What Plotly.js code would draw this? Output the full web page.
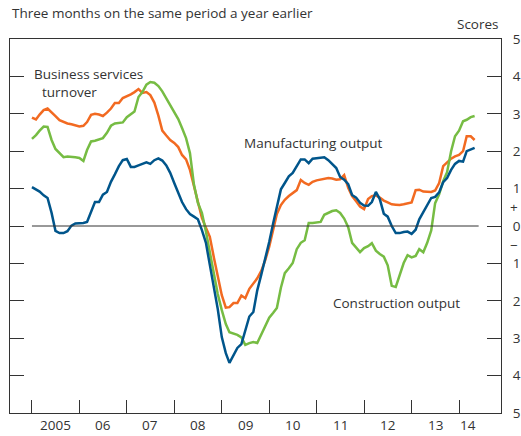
<!DOCTYPE html>
<html>
<head>
<meta charset="utf-8">
<script src="https://cdn.plot.ly/plotly-3.0.1.min.js"></script>
<style>html,body{margin:0;padding:0;background:#fff;}#chart{width:521px;height:436px;}</style>
</head>
<body>
<div id="chart"></div>
<script>
// Monthly, Jan 2005 to May 2014
const startYear = 2005;
const businessServices = [2.90,2.85,2.98,3.10,3.14,3.05,2.94,2.83,2.78,2.74,2.72,2.70,
  2.66,2.68,2.78,2.97,3.00,2.98,2.94,3.03,3.14,3.29,3.29,3.42,
  3.46,3.52,3.58,3.66,3.56,3.58,3.50,3.30,2.95,2.55,2.42,2.30,
  2.22,2.11,1.90,1.78,1.50,1.05,0.60,0.22,-0.05,-0.29,-0.84,-1.33,
  -1.85,-2.18,-2.17,-2.06,-2.06,-1.86,-1.93,-1.68,-1.52,-1.40,-1.20,-0.92,
  -0.55,-0.11,0.32,0.56,0.70,0.80,0.88,0.96,1.23,1.15,1.10,1.18,
  1.22,1.24,1.26,1.28,1.27,1.24,1.25,1.36,1.02,0.80,0.66,0.52,
  0.45,0.72,0.80,0.82,0.76,0.68,0.63,0.58,0.57,0.56,0.58,0.61,
  0.63,0.96,0.97,0.92,0.91,0.91,0.95,1.15,1.60,1.71,1.80,1.86,
  1.90,2.00,2.40,2.40,2.30];
const construction = [2.33,2.43,2.55,2.66,2.65,2.30,2.06,1.95,1.84,1.86,1.86,1.84,
  1.82,1.74,2.03,2.26,2.28,2.31,2.35,2.49,2.68,2.74,2.75,2.77,
  2.91,2.98,3.06,3.45,3.58,3.78,3.85,3.83,3.74,3.60,3.42,3.24,
  3.05,2.86,2.62,2.35,1.95,1.10,0.62,0.35,-0.15,-0.70,-1.28,-1.82,
  -2.25,-2.62,-2.84,-2.88,-2.91,-2.98,-3.18,-3.13,-3.10,-3.13,-2.90,-2.70,
  -2.45,-2.32,-2.19,-1.65,-1.26,-1.13,-0.99,-0.62,-0.45,-0.38,0.08,0.08,
  0.10,0.11,0.30,0.36,0.40,0.42,0.35,0.20,-0.03,-0.45,-0.57,-0.70,
  -0.59,-0.54,-0.46,-0.66,-0.75,-0.82,-1.05,-1.60,-1.63,-1.33,-0.99,-0.78,
  -0.84,-0.80,-0.62,-0.70,-0.45,-0.12,0.61,0.85,1.20,1.44,2.00,2.40,
  2.55,2.80,2.84,2.91,2.94];
const manufacturing = [1.04,0.98,0.92,0.82,0.75,0.35,-0.13,-0.19,-0.19,-0.14,0.01,0.07,
  0.08,0.08,0.11,0.36,0.64,0.64,0.84,0.91,1.18,1.38,1.60,1.76,
  1.79,1.58,1.58,1.62,1.65,1.70,1.66,1.76,1.81,1.75,1.62,1.42,
  1.15,0.86,0.64,0.45,0.32,0.25,0.18,-0.11,-0.45,-1.04,-1.64,-2.22,
  -2.97,-3.40,-3.66,-3.45,-3.26,-3.16,-2.80,-2.42,-2.30,-1.72,-1.30,-0.88,
  -0.43,0.08,0.50,0.98,1.15,1.33,1.42,1.62,1.78,1.78,1.68,1.80,
  1.82,1.82,1.84,1.76,1.65,1.55,1.31,1.24,1.12,0.83,0.76,0.62,
  0.55,0.54,0.64,0.91,0.72,0.33,0.25,0.00,-0.19,-0.19,-0.16,-0.15,
  -0.21,-0.10,0.18,0.38,0.56,0.75,0.78,0.90,1.17,1.28,1.50,1.66,
  1.74,1.72,2.00,2.04,2.09];
const yearLabels = ['2005','06','07','08','09','10','11','12','13','14'];
const yearLabelPos = ['2005-07-01','2006-07-01','2007-07-01','2008-07-01','2009-07-01','2010-07-01','2011-07-01','2012-07-01','2013-07-01','2014-03-10'];
const yearTicks = ['2005-01-01','2006-01-01','2007-01-01','2008-01-01','2009-01-01','2010-01-01','2011-01-01','2012-01-01','2013-01-01','2014-01-01'];
const yTickVals = [-5,-4,-3,-2,-1,0,1,2,3,4,5];
const yTickText = ['5','4','3','2','1','0','1','2','3','4','5'];

function months(n){
  const out=[];
  for(let i=0;i<n;i++){
    const y=startYear+Math.floor(i/12), m=(i%12)+1;
    out.push(y+'-'+(m<10?'0':'')+m+'-01');
  }
  return out;
}
const dates = months(businessServices.length);

const FONT = 'Open Sans, Noto Sans, sans-serif';
const TXT = '#333333';
const FS = 13.5;
const traces = [
  {x:dates,y:businessServices,type:'scatter',mode:'lines',line:{color:'#f26a21',width:2.5},name:'Business services turnover'},
  {x:dates,y:construction,type:'scatter',mode:'lines',line:{color:'#76bc43',width:2.5},name:'Construction output'},
  {x:dates,y:manufacturing,type:'scatter',mode:'lines',line:{color:'#00558b',width:2.5},name:'Manufacturing output'}
];

const f = {family:FONT,size:FS,color:TXT};
const annotations = [];
yearLabels.forEach((t,i)=>{
  annotations.push({x:yearLabelPos[i],y:0,xref:'x',yref:'paper',yanchor:'top',yshift:-1,text:t,showarrow:false,font:f});
});
annotations.push({x:1,y:0.5,xref:'paper',yref:'y',xanchor:'left',xshift:7,text:'+',showarrow:false,font:f});
annotations.push({x:1,y:-0.5,xref:'paper',yref:'y',xanchor:'left',xshift:7,text:'\u2212',showarrow:false,font:f});
annotations.push({x:'2005-01-01',y:4.06,xref:'x',yref:'y',xanchor:'left',text:'Business services',showarrow:false,font:f});
annotations.push({x:'2005-03-01',y:3.57,xref:'x',yref:'y',xanchor:'left',text:'turnover',showarrow:false,font:f});
annotations.push({x:'2009-06-07',y:2.22,xref:'x',yref:'y',xanchor:'left',text:'Manufacturing output',showarrow:false,font:f});
annotations.push({x:'2011-04-22',y:-2.05,xref:'x',yref:'y',xanchor:'left',text:'Construction output',showarrow:false,font:f});
annotations.push({x:0,y:1,xref:'paper',yref:'paper',xanchor:'left',yanchor:'bottom',yshift:15,text:'Three months on the same period a year earlier',showarrow:false,font:f});
annotations.push({x:1,y:1,xref:'paper',yref:'paper',xanchor:'right',yanchor:'bottom',yshift:4,text:'Scores',showarrow:false,font:f});

const layout = {
  width:521,height:436,
  margin:{l:10,r:20,t:39,b:23,pad:0},
  paper_bgcolor:'#fff',plot_bgcolor:'#fff',
  showlegend:false,
  font:f,
  xaxis:{type:'date',range:['2004-07-16','2014-11-20'],tickvals:yearTicks,showticklabels:false,
    ticks:'inside',ticklen:13,tickcolor:'#333',tickwidth:1,showgrid:false,zeroline:false,
    showline:true,linecolor:'#333',linewidth:1,mirror:true,fixedrange:true},
  yaxis:{range:[-5,5],side:'right',tickvals:yTickVals,ticktext:yTickText,ticks:'inside',ticklen:14,
    tickcolor:'#333',tickwidth:1,showgrid:false,zeroline:false,showline:true,linecolor:'#333',linewidth:1,
    mirror:'ticks',tickfont:f,ticklabelstandoff:8,fixedrange:true},
  shapes:[{type:'line',xref:'x',yref:'y',x0:'2005-01-01',x1:'2014-06-01',y0:0,y1:0,line:{color:'#333',width:1}}],
  annotations:annotations
};
Plotly.newPlot('chart',traces,layout,{displayModeBar:false,staticPlot:true});
</script>
</body>
</html>
